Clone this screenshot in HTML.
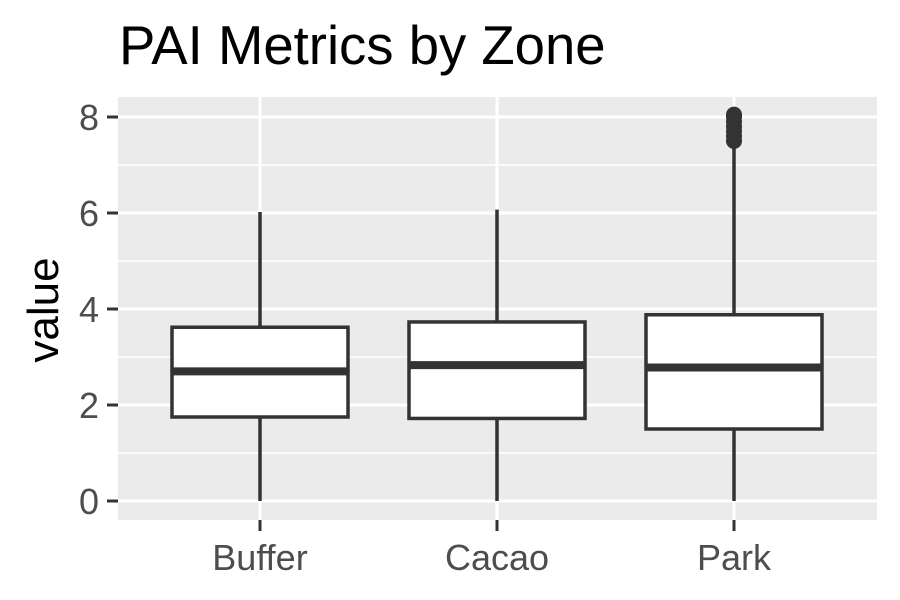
<!DOCTYPE html>
<html><head><meta charset="utf-8"><style>
body{margin:0;background:#fff;}
svg{display:block;font-family:"Liberation Sans",sans-serif;}
</style></head><body>
<svg id="c" width="900" height="600">
<text x="119" y="64" font-size="54.5" fill="#000">PAI Metrics by Zone</text>
<rect x="118" y="97" width="759" height="423" fill="#ebebeb"/>
<g id="grid"></g><g id="boxes"></g><g id="axes"></g>
<text transform="translate(58,310) rotate(-90)" text-anchor="middle" font-size="44" fill="#000">value</text>
</svg>
<script>
const categories=["Buffer","Cacao","Park"];
const lowW=[0,0,0];
const q1=[1.75,1.72,1.5];
const med=[2.7,2.83,2.78];
const q3=[3.62,3.73,3.88];
const highW=[6.02,6.07,7.4];
const outliers=[[],[],[7.5,7.6,7.7,7.8,7.9,8.0,8.05]];
const yTicks=[0,2,4,6,8];
const NS="http://www.w3.org/2000/svg";
const y=v=>501-v*48;
const x=i=>260+i*237;
function mk(p,t,a){const e=document.createElementNS(NS,t);for(const k in a)e.setAttribute(k,a[k]);p.appendChild(e);return e;}
const grid=document.getElementById('grid'),boxes=document.getElementById('boxes'),axes=document.getElementById('axes');
for(let v=1;v<8;v+=2){const l=mk(grid,'line',{x1:118,x2:877,y1:y(v),y2:y(v),stroke:'#fff','stroke-width':1.5});

}
yTicks.forEach(v=>{const l=mk(grid,'line',{x1:118,x2:877,y1:y(v),y2:y(v),stroke:'#fff','stroke-width':3});


const t=mk(axes,'line',{x1:107,x2:118,y1:y(v),y2:y(v),stroke:'#333','stroke-width':3});


const tx=mk(axes,'text',{x:99,y:y(v)+13,'text-anchor':'end','font-size':36,fill:'#4d4d4d'});tx.textContent=v;

});
categories.forEach((c,i)=>{const cx=x(i),hw=88;
const g=mk(grid,'line',{x1:cx,x2:cx,y1:97,y2:520,stroke:'#fff','stroke-width':3});


const grp=mk(boxes,'g',{});


mk(grp,'line',{x1:cx,x2:cx,y1:y(q3[i]),y2:y(highW[i]),stroke:'#333','stroke-width':3.5});
mk(grp,'line',{x1:cx,x2:cx,y1:y(q1[i]),y2:y(lowW[i]),stroke:'#333','stroke-width':3.5});
mk(grp,'rect',{x:cx-hw,y:y(q3[i]),width:2*hw,height:y(q1[i])-y(q3[i]),fill:'#fff',stroke:'#333','stroke-width':3.5});
mk(grp,'line',{x1:cx-hw,x2:cx+hw,y1:y(med[i]),y2:y(med[i]),stroke:'#333','stroke-width':8});
outliers[i].forEach(v=>{const p=mk(grp,'circle',{cx:cx,cy:y(v),r:8,fill:'#333'});

});
const t=mk(axes,'line',{x1:cx,x2:cx,y1:520,y2:531,stroke:'#333','stroke-width':3});


const tx=mk(axes,'text',{x:cx,y:570,'text-anchor':'middle','font-size':36,fill:'#4d4d4d'});tx.textContent=c;

});
</script>
</body></html>
